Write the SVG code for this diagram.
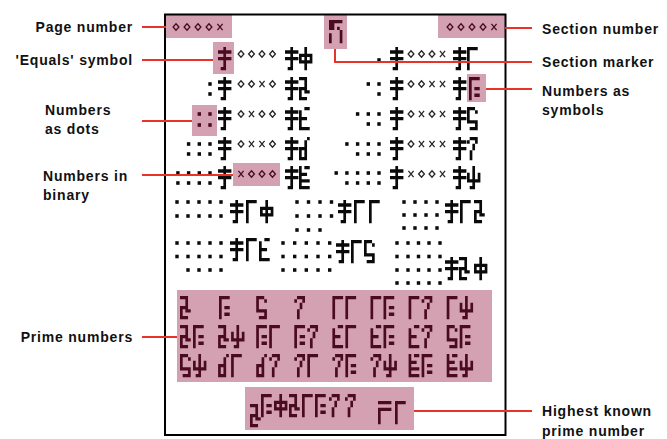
<svg xmlns="http://www.w3.org/2000/svg" xmlns:xlink="http://www.w3.org/1999/xlink" width="667" height="439" viewBox="0 0 667 439">
<style>
.k{fill:#0a0a0a}
.m{fill:#4a0a1f}
.bk{stroke:#262626}
.bm{stroke:#4a0a1f}
.pk{fill:#d4a1b2}
.ln{stroke:#e8332a;stroke-width:2;fill:none}
.lb{font-family:"Liberation Sans",Arial,sans-serif;font-weight:bold;font-size:14px;fill:#111;letter-spacing:0.8px}
.e{text-anchor:end}
</style>
<defs>
<path id="EQ" transform="scale(2.68 3.32)" d="M2 0h1v6h-1zM0 1h5v1h-5zM0 3h5v1h-5zM1 6h2v1h-2z"/>
<path id="D0" transform="scale(2.68 3.32)" d="M2 0h1v7h-1zM0 2h5v1h-5zM0 4h5v1h-5zM0 3h1v1h-1zM4 3h1v1h-1z"/>
<path id="D1" transform="scale(2.68 3.32)" d="M0 0h4v1h-4zM0 1h1v6h-1z"/>
<path id="D2" transform="scale(2.68 3.32)" d="M0 0h3v1h-3zM2 1h1v2h-1zM0 3h3v1h-3zM0 4h1v3h-1zM2 4h2v1h-2zM1 6h2v1h-2z"/>
<path id="D3" transform="scale(2.68 3.32)" d="M0 0h4v1h-4zM0 1h1v6h-1zM2 3h2v1h-2zM2 5h2v1h-2z"/>
<path id="D4" transform="scale(2.68 3.32)" d="M2 0h2v1h-2zM0 1h1v6h-1zM1 3h2v1h-2zM1 6h3v1h-3z"/>
<path id="D5" transform="scale(2.68 3.32)" d="M0 0h3v1h-3zM3 1h1v1h-1zM0 1h1v3h-1zM0 4h4v1h-4zM3 5h1v1h-1zM1 6h3v1h-3z"/>
<path id="D6" transform="scale(2.68 3.32)" d="M3 0h1v1h-1zM2 1h1v6h-1zM0 3h2v1h-2zM0 4h1v2h-1zM0 6h2v1h-2z"/>
<path id="D7" transform="scale(2.68 3.32)" d="M1 0h3v1h-3zM0 1h1v1h-1zM3 1h1v1h-1zM2 2h1v2h-1zM1 4h1v3h-1z"/>
<path id="D8" transform="scale(2.68 3.32)" d="M0 0h1v7h-1zM2 0h2v1h-2zM1 2h2v1h-2zM1 4h3v1h-3zM1 6h3v1h-3z"/>
<path id="D9" transform="scale(2.68 3.32)" d="M2 0h1v6h-1zM0 2h1v2h-1zM4 2h1v2h-1zM0 4h5v1h-5zM1 6h2v1h-2z"/>
<path id="SM" transform="scale(2.68 3.32)" d="M0 0h5v1h-5zM0 1h2v2h-2zM3 2h1v1h-1zM4 3h1v4h-1zM0 4h1v3h-1z"/>
<path id="MN" transform="scale(2.68 3.32)" d="M0 0h5v1h-5zM0 2h5v1h-5zM0 3h1v4h-1z"/>
<rect id="dt" x="-1.7" y="-1.8" width="3.4" height="3.6"/>
<path id="b0" d="M0 -3.2L2.9 0L0 3.2L-2.9 0Z" fill="none" stroke-width="1.3"/>
<path id="b1" d="M-2.6 -3.1L2.6 3.1M2.6 -3.1L-2.6 3.1" fill="none" stroke-width="1.3"/>
</defs>
<rect width="667" height="439" fill="#fff"/>

<g id="highlights">
<rect class="pk" x="165" y="15" width="67" height="23"/>
<rect class="pk" x="324" y="15" width="23" height="34"/>
<rect class="pk" x="438" y="15" width="67" height="23"/>
<rect class="pk" x="213" y="42" width="21" height="32"/>
<rect class="pk" x="467" y="74" width="19" height="28"/>
<rect class="pk" x="192" y="105" width="25" height="31"/>
<rect class="pk" x="233" y="163" width="47" height="23"/>
<rect class="pk" x="177" y="290" width="315" height="92"/>
<rect class="pk" x="245" y="387" width="169" height="43"/>
</g>

<rect id="frame" x="165" y="14.5" width="340.5" height="420.5" fill="none" stroke="#000" stroke-width="2"/>

<g id="header">
<g class="bm"><use href="#b0" x="176" y="27"/><use href="#b0" x="187" y="27"/><use href="#b0" x="198" y="27"/><use href="#b0" x="209" y="27"/><use href="#b1" x="220" y="27"/></g>
<use class="m" href="#SM" x="329" y="20"/>
<g class="bm"><use href="#b0" x="450" y="27"/><use href="#b0" x="461" y="27"/><use href="#b0" x="472" y="27"/><use href="#b0" x="483" y="27"/><use href="#b1" x="494" y="27"/></g>
</g>

<g id="numbers-0-9">
<use class="m" href="#EQ" x="218" y="47"/>
<g class="bk"><use href="#b0" x="241" y="54"/><use href="#b0" x="251.5" y="54"/><use href="#b0" x="262" y="54"/><use href="#b0" x="272.5" y="54"/></g>
<use class="k" href="#EQ" x="285" y="47"/><use class="k" href="#D0" x="299" y="47"/>
<use class="k" href="#dt" x="379" y="60"/>
<use class="k" href="#EQ" x="390" y="47"/>
<g class="bk"><use href="#b0" x="411" y="54"/><use href="#b0" x="421.5" y="54"/><use href="#b0" x="432" y="54"/><use href="#b1" x="442.5" y="54"/></g>
<use class="k" href="#EQ" x="453" y="47"/><use class="k" href="#D1" x="467" y="47"/>

<g class="k"><use href="#dt" x="210" y="84"/><use href="#dt" x="210" y="94"/></g>
<use class="k" href="#EQ" x="218" y="77"/>
<g class="bk"><use href="#b0" x="241" y="84"/><use href="#b0" x="251.5" y="84"/><use href="#b1" x="262" y="84"/><use href="#b0" x="272.5" y="84"/></g>
<use class="k" href="#EQ" x="285" y="77"/><use class="k" href="#D2" x="299" y="77"/>
<g class="k"><use href="#dt" x="368.3" y="84"/><use href="#dt" x="379" y="84"/><use href="#dt" x="379" y="94"/></g>
<use class="k" href="#EQ" x="390" y="77"/>
<g class="bk"><use href="#b0" x="411" y="84"/><use href="#b0" x="421.5" y="84"/><use href="#b1" x="432" y="84"/><use href="#b1" x="442.5" y="84"/></g>
<use class="k" href="#EQ" x="453" y="77"/><use class="m" href="#D3" x="469" y="77"/>

<g class="m"><use href="#dt" x="199.3" y="114"/><use href="#dt" x="210" y="114"/><use href="#dt" x="199.3" y="125"/><use href="#dt" x="210" y="125"/></g>
<use class="k" href="#EQ" x="218" y="107"/>
<g class="bk"><use href="#b0" x="241" y="114"/><use href="#b1" x="251.5" y="114"/><use href="#b0" x="262" y="114"/><use href="#b0" x="272.5" y="114"/></g>
<use class="k" href="#EQ" x="285" y="107"/><use class="k" href="#D4" x="299" y="107"/>
<g class="k"><use href="#dt" x="357.6" y="114"/><use href="#dt" x="368.3" y="114"/><use href="#dt" x="379" y="114"/><use href="#dt" x="368.3" y="124"/><use href="#dt" x="379" y="124"/></g>
<use class="k" href="#EQ" x="390" y="107"/>
<g class="bk"><use href="#b0" x="411" y="114"/><use href="#b1" x="421.5" y="114"/><use href="#b0" x="432" y="114"/><use href="#b1" x="442.5" y="114"/></g>
<use class="k" href="#EQ" x="453" y="107"/><use class="k" href="#D5" x="467" y="107"/>

<g class="k"><use href="#dt" x="188.6" y="144"/><use href="#dt" x="199.3" y="144"/><use href="#dt" x="210" y="144"/><use href="#dt" x="188.6" y="154"/><use href="#dt" x="199.3" y="154"/><use href="#dt" x="210" y="154"/></g>
<use class="k" href="#EQ" x="218" y="137"/>
<g class="bk"><use href="#b0" x="241" y="144"/><use href="#b1" x="251.5" y="144"/><use href="#b1" x="262" y="144"/><use href="#b0" x="272.5" y="144"/></g>
<use class="k" href="#EQ" x="285" y="137"/><use class="k" href="#D6" x="299" y="137"/>
<g class="k"><use href="#dt" x="346.9" y="144"/><use href="#dt" x="357.6" y="144"/><use href="#dt" x="368.3" y="144"/><use href="#dt" x="379" y="144"/><use href="#dt" x="357.6" y="154"/><use href="#dt" x="368.3" y="154"/><use href="#dt" x="379" y="154"/></g>
<use class="k" href="#EQ" x="390" y="137"/>
<g class="bk"><use href="#b0" x="411" y="144"/><use href="#b1" x="421.5" y="144"/><use href="#b1" x="432" y="144"/><use href="#b1" x="442.5" y="144"/></g>
<use class="k" href="#EQ" x="453" y="137"/><use class="k" href="#D7" x="467" y="137"/>

<g class="k"><use href="#dt" x="177.9" y="173"/><use href="#dt" x="188.6" y="173"/><use href="#dt" x="199.3" y="173"/><use href="#dt" x="210" y="173"/><use href="#dt" x="177.9" y="183"/><use href="#dt" x="188.6" y="183"/><use href="#dt" x="199.3" y="183"/><use href="#dt" x="210" y="183"/></g>
<use class="k" href="#EQ" x="218" y="166"/>
<g class="bm"><use href="#b1" x="241" y="174"/><use href="#b0" x="251.5" y="174"/><use href="#b0" x="262" y="174"/><use href="#b0" x="272.5" y="174"/></g>
<use class="k" href="#EQ" x="285" y="166"/><use class="k" href="#D8" x="299" y="166"/>
<g class="k"><use href="#dt" x="336.2" y="173"/><use href="#dt" x="346.9" y="173"/><use href="#dt" x="357.6" y="173"/><use href="#dt" x="368.3" y="173"/><use href="#dt" x="379" y="173"/><use href="#dt" x="346.9" y="183"/><use href="#dt" x="357.6" y="183"/><use href="#dt" x="368.3" y="183"/><use href="#dt" x="379" y="183"/></g>
<use class="k" href="#EQ" x="390" y="166"/>
<g class="bk"><use href="#b1" x="411" y="174"/><use href="#b0" x="421.5" y="174"/><use href="#b0" x="432" y="174"/><use href="#b1" x="442.5" y="174"/></g>
<use class="k" href="#EQ" x="453" y="166"/><use class="k" href="#D9" x="467" y="166"/>
</g>

<g id="numbers-10-20" class="k">
<use href="#dt" x="177" y="202"/><use href="#dt" x="188" y="202"/><use href="#dt" x="199" y="202"/><use href="#dt" x="210" y="202"/><use href="#dt" x="221" y="202"/>
<use href="#dt" x="177" y="216"/><use href="#dt" x="188" y="216"/><use href="#dt" x="199" y="216"/><use href="#dt" x="210" y="216"/><use href="#dt" x="221" y="216"/>
<use href="#EQ" x="230" y="200"/><use href="#D1" x="246" y="200"/><use href="#D0" x="260" y="200"/>

<use href="#dt" x="297" y="202"/><use href="#dt" x="308.5" y="202"/><use href="#dt" x="320" y="202"/><use href="#dt" x="331.5" y="202"/>
<use href="#dt" x="297" y="216"/><use href="#dt" x="308.5" y="216"/><use href="#dt" x="320" y="216"/><use href="#dt" x="331.5" y="216"/>
<use href="#dt" x="297" y="230"/><use href="#dt" x="308.5" y="230"/><use href="#dt" x="320" y="230"/>
<use href="#EQ" x="338" y="200"/><use href="#D1" x="354" y="200"/><use href="#D1" x="369" y="200"/>

<use href="#dt" x="404" y="202"/><use href="#dt" x="415" y="202"/><use href="#dt" x="426" y="202"/><use href="#dt" x="437" y="202"/>
<use href="#dt" x="404" y="215"/><use href="#dt" x="415" y="215"/><use href="#dt" x="426" y="215"/><use href="#dt" x="437" y="215"/>
<use href="#dt" x="404" y="228"/><use href="#dt" x="415" y="228"/><use href="#dt" x="426" y="228"/><use href="#dt" x="437" y="228"/>
<use href="#EQ" x="445" y="200"/><use href="#D1" x="460" y="200"/><use href="#D2" x="474" y="200"/>

<use href="#dt" x="177" y="243"/><use href="#dt" x="188" y="243"/><use href="#dt" x="199" y="243"/><use href="#dt" x="210" y="243"/><use href="#dt" x="221" y="243"/>
<use href="#dt" x="177" y="256.5"/><use href="#dt" x="188" y="256.5"/><use href="#dt" x="199" y="256.5"/><use href="#dt" x="210" y="256.5"/><use href="#dt" x="221" y="256.5"/>
<use href="#dt" x="188" y="270"/><use href="#dt" x="199" y="270"/><use href="#dt" x="210" y="270"/><use href="#dt" x="221" y="270"/>
<use href="#EQ" x="230" y="238"/><use href="#D1" x="246" y="238"/><use href="#D4" x="259" y="238"/>

<use href="#dt" x="283" y="243"/><use href="#dt" x="294.7" y="243"/><use href="#dt" x="306.3" y="243"/><use href="#dt" x="318" y="243"/><use href="#dt" x="329.7" y="243"/>
<use href="#dt" x="283" y="256.5"/><use href="#dt" x="294.7" y="256.5"/><use href="#dt" x="306.3" y="256.5"/><use href="#dt" x="318" y="256.5"/><use href="#dt" x="329.7" y="256.5"/>
<use href="#dt" x="283" y="270"/><use href="#dt" x="294.7" y="270"/><use href="#dt" x="306.3" y="270"/><use href="#dt" x="318" y="270"/><use href="#dt" x="329.7" y="270"/>
<use href="#EQ" x="336" y="240"/><use href="#D1" x="351" y="240"/><use href="#D5" x="364" y="240"/>

<use href="#dt" x="397" y="243"/><use href="#dt" x="408" y="243"/><use href="#dt" x="418.5" y="243"/><use href="#dt" x="429" y="243"/><use href="#dt" x="440" y="243"/>
<use href="#dt" x="397" y="256.5"/><use href="#dt" x="408" y="256.5"/><use href="#dt" x="418.5" y="256.5"/><use href="#dt" x="429" y="256.5"/><use href="#dt" x="440" y="256.5"/>
<use href="#dt" x="397" y="270"/><use href="#dt" x="408" y="270"/><use href="#dt" x="418.5" y="270"/><use href="#dt" x="429" y="270"/><use href="#dt" x="440" y="270"/>
<use href="#dt" x="397" y="283"/><use href="#dt" x="408" y="283"/><use href="#dt" x="418.5" y="283"/><use href="#dt" x="429" y="283"/><use href="#dt" x="440" y="283"/>
<use href="#EQ" x="445" y="257"/><use href="#D2" x="459" y="257"/><use href="#D0" x="474" y="257"/>
</g>

<g id="primes" class="m">
<use href="#D2" x="180" y="296"/>
<use href="#D3" x="219" y="296"/>
<use href="#D5" x="256.2" y="296"/>
<use href="#D7" x="294.3" y="296"/>
<use href="#D1" x="332.4" y="296"/><use href="#D1" x="345.4" y="296"/>
<use href="#D1" x="370.5" y="296"/><use href="#D3" x="383.5" y="296"/>
<use href="#D1" x="408.6" y="296"/><use href="#D7" x="421.6" y="296"/>
<use href="#D1" x="446.7" y="296"/><use href="#D9" x="459.7" y="296"/>

<use href="#D2" x="180" y="325"/><use href="#D3" x="193" y="325"/>
<use href="#D2" x="218.1" y="325"/><use href="#D9" x="231.1" y="325"/>
<use href="#D3" x="256.2" y="325"/><use href="#D1" x="269.2" y="325"/>
<use href="#D3" x="294.3" y="325"/><use href="#D7" x="307.3" y="325"/>
<use href="#D4" x="332.4" y="325"/><use href="#D1" x="345.4" y="325"/>
<use href="#D4" x="370.5" y="325"/><use href="#D3" x="383.5" y="325"/>
<use href="#D4" x="408.6" y="325"/><use href="#D7" x="421.6" y="325"/>
<use href="#D5" x="446.7" y="325"/><use href="#D3" x="459.7" y="325"/>

<use href="#D5" x="180" y="354"/><use href="#D9" x="193" y="354"/>
<use href="#D6" x="218.1" y="354"/><use href="#D1" x="231.1" y="354"/>
<use href="#D6" x="256.2" y="354"/><use href="#D7" x="269.2" y="354"/>
<use href="#D7" x="294.3" y="354"/><use href="#D1" x="307.3" y="354"/>
<use href="#D7" x="332.4" y="354"/><use href="#D3" x="345.4" y="354"/>
<use href="#D7" x="370.5" y="354"/><use href="#D9" x="383.5" y="354"/>
<use href="#D8" x="408.6" y="354"/><use href="#D3" x="421.6" y="354"/>
<use href="#D8" x="446.7" y="354"/><use href="#D9" x="459.7" y="354"/>
</g>

<g id="highest-prime" class="m">
<use href="#D2" x="250" y="404"/>
<use href="#D3" x="261" y="394"/>
<use href="#D0" x="274" y="394"/>
<use href="#D2" x="289" y="394"/>
<use href="#D1" x="302" y="394"/>
<use href="#D3" x="315" y="394"/>
<use href="#D7" x="329" y="394"/>
<use href="#D7" x="345" y="394"/>
<use href="#MN" x="378" y="401"/>
<use href="#D1" x="395" y="401"/>
</g>

<g id="connectors">
<path class="ln" d="M142 27H166"/>
<path class="ln" d="M142 60H213"/>
<path class="ln" d="M142 121H192"/>
<path class="ln" d="M142 175H233"/>
<path class="ln" d="M142 337H177"/>
<path class="ln" d="M505 28H532"/>
<path class="ln" d="M335 49V62H532"/>
<path class="ln" d="M486 89H532"/>
<path class="ln" d="M414 411H532"/>
</g>

<g id="labels">
<g id="lbl-page"><text class="lb e" x="133" y="32">Page number</text></g>
<g id="lbl-equals"><text class="lb e" x="133" y="65">'Equals' symbol</text></g>
<g id="lbl-dots"><text class="lb" x="45" y="115">Numbers</text><text class="lb" x="45" y="134">as dots</text></g>
<g id="lbl-binary"><text class="lb" x="43" y="181">Numbers in</text><text class="lb" x="43" y="200">binary</text></g>
<g id="lbl-primes"><text class="lb e" x="133" y="342">Prime numbers</text></g>
<g id="lbl-section-number"><text class="lb" x="542" y="34">Section number</text></g>
<g id="lbl-section-marker"><text class="lb" x="542" y="67">Section marker</text></g>
<g id="lbl-symbols"><text class="lb" x="542" y="96">Numbers as</text><text class="lb" x="542" y="115">symbols</text></g>
<g id="lbl-highest"><text class="lb" x="542" y="416">Highest known</text><text class="lb" x="542" y="436">prime number</text></g>
</g>
</svg>
